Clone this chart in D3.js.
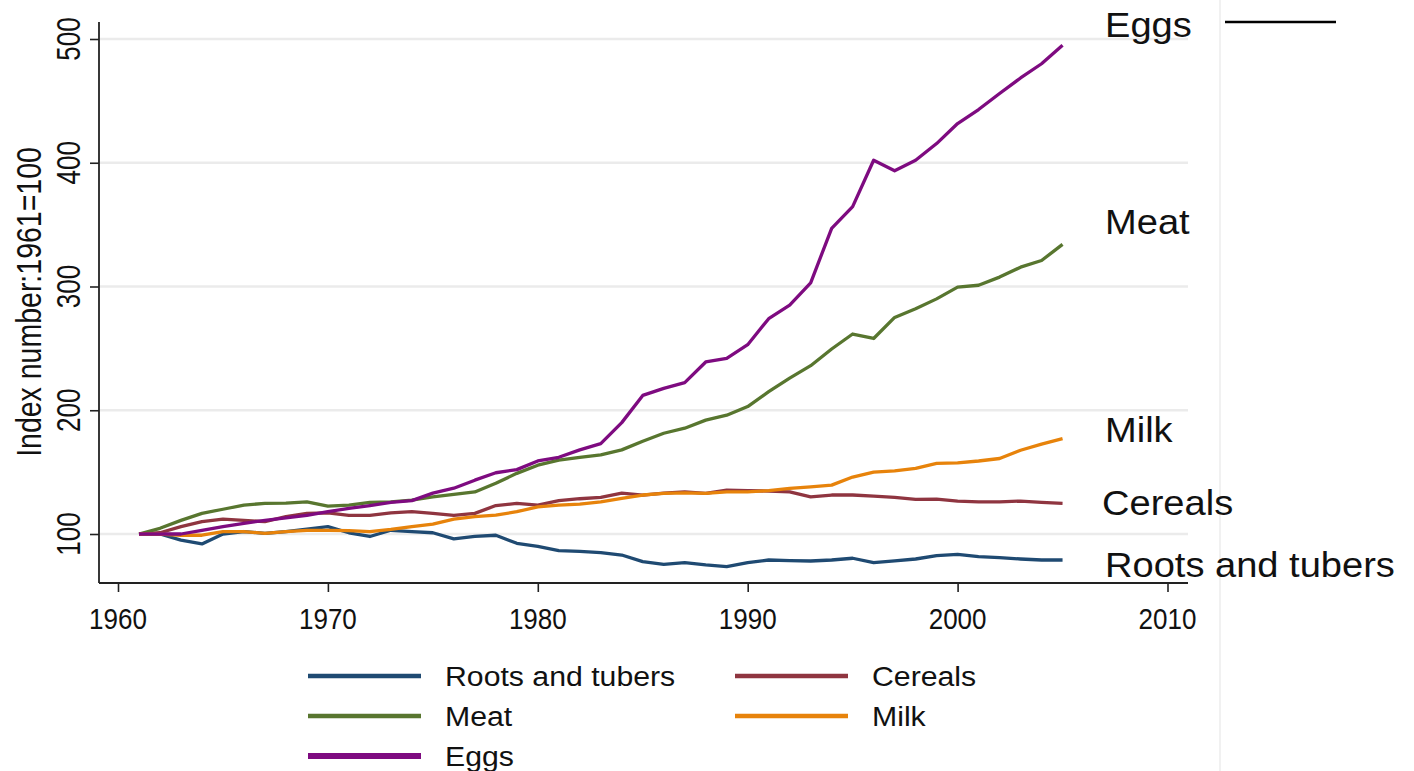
<!DOCTYPE html>
<html>
<head>
<meta charset="utf-8">
<script src="https://cdn.jsdelivr.net/npm/d3@7"></script>
<style>
  html, body { margin: 0; padding: 0; background: #ffffff; }
  svg { display: block; }
  text { font-family: "Liberation Sans", Arial, sans-serif; fill: #111; }
</style>
</head>
<body>
<svg id="chart" width="1414" height="771"></svg>
<script>
// ---------------- data ----------------
const years = d3.range(1961, 2006);

const rootsAndTubers = [100, 100, 95, 92, 100, 102, 100.5, 102, 104, 106,
  101, 98, 103, 102, 101, 96, 98, 99, 92.5, 90,
  86.5, 86, 85, 83, 77.7, 75.5, 76.9, 75, 73.7, 76.9,
  79, 78.5, 78.2, 79, 80.4, 76.9, 78.2, 79.8, 82.5, 83.6,
  81.7, 80.9, 79.8, 79, 79];

const cereals = [100, 101, 106, 110, 112, 111, 110, 114, 116.7, 117,
  115, 115, 117, 118, 116.7, 115, 116.7, 123, 124.7, 123.4,
  127, 128.5, 129.6, 133, 131.5, 133, 134, 132.8, 135.5, 135,
  134.7, 134, 130, 131.5, 131.5, 130.6, 129.6, 128, 128.2, 126.6,
  126, 126, 126.6, 125.5, 124.7];

const meat = [100, 104.6, 111, 116.7, 120, 123.4, 124.7, 125, 126, 122.6,
  123.4, 125.5, 126, 127.4, 130, 132, 134, 141, 149, 155.6,
  159.7, 162, 164, 168, 175, 181.4, 185.5, 192, 196, 203,
  215, 226, 236, 249.5, 261.6, 258, 275, 282, 290, 299.5,
  301, 307.6, 315.6, 321, 334];

const milk = [100, 100, 99, 99, 102, 102, 100.5, 102, 103, 103,
  102.7, 102, 103.8, 106, 108, 112, 114, 115.3, 118, 122,
  123.4, 124.2, 126, 128.8, 131.5, 132.8, 133.3, 132.8, 134, 134,
  135, 136.8, 138, 139.5, 146, 150, 151, 153, 157, 157.5,
  159, 161, 167.7, 172.6, 177];

const eggs = [100, 100, 100, 103, 106, 108.6, 111, 113, 115, 118,
  120.7, 123, 125.5, 127, 133, 137, 143.5, 149.5, 152, 159,
  162, 168, 173, 190, 212, 217.7, 222.3, 239, 242, 253,
  274, 285, 303, 347, 364.5, 402, 393.5, 402, 415.5, 431.7,
  443, 456, 468.5, 480, 495];

const seriesNames = ["Roots and tubers", "Cereals", "Meat", "Milk", "Eggs"];
const seriesValues = [rootsAndTubers, cereals, meat, milk, eggs];
const seriesColors = ["#1f4a72", "#8f3540", "#58762f", "#e7830b", "#7e0b80"];

const xTicks = [1960, 1970, 1980, 1990, 2000, 2010];
const yTicks = [100, 200, 300, 400, 500];
const yTitle = "Index number:1961=100";

// ---------------- layout ----------------
const svg = d3.select("#chart");
const x = d3.scaleLinear().domain([1960, 2010]).range([118, 1167.5]);
const y = d3.scaleLinear().domain([100, 500]).range([534, 39]);
const plotLeft = 99, plotRight = 1188, plotTop = 22, plotBottom = 583;

// faint frame line at right of graph region
svg.append("line").attr("x1", 1220).attr("x2", 1220).attr("y1", 0).attr("y2", 771)
  .attr("stroke", "#f1f1f1").attr("stroke-width", 2);
svg.append("line").attr("x1", 1225).attr("x2", 1336).attr("y1", 22).attr("y2", 22)
  .attr("stroke", "#000").attr("stroke-width", 2.5);

// gridlines
svg.append("g").selectAll("line").data(yTicks).join("line")
  .attr("x1", plotLeft + 1).attr("x2", plotRight)
  .attr("y1", d => y(d)).attr("y2", d => y(d))
  .attr("stroke", "#ebebeb").attr("stroke-width", 2.5);

// axes
const yAxis = d3.axisLeft(y).tickValues(yTicks).tickSize(9).tickFormat("");
const gy = svg.append("g").attr("transform", `translate(${plotLeft},0)`).call(yAxis);
gy.select(".domain").remove();
gy.selectAll(".tick line").attr("stroke", "#222").attr("stroke-width", 1.6);
svg.append("line").attr("x1", plotLeft).attr("x2", plotLeft).attr("y1", plotTop).attr("y2", plotBottom)
  .attr("stroke", "#222").attr("stroke-width", 1.8);

const xAxis = d3.axisBottom(x).tickValues(xTicks).tickSize(9).tickFormat("");
const gx = svg.append("g").attr("transform", `translate(0,${plotBottom})`).call(xAxis);
gx.select(".domain").remove();
gx.selectAll(".tick line").attr("stroke", "#222").attr("stroke-width", 1.6);
svg.append("line").attr("x1", plotLeft).attr("x2", plotRight).attr("y1", plotBottom).attr("y2", plotBottom)
  .attr("stroke", "#222").attr("stroke-width", 1.8);

// x tick labels
svg.append("g").selectAll("text").data(xTicks).join("text")
  .attr("transform", d => `translate(${x(d)},629) scale(1.0,1.1)`)
  .attr("text-anchor", "middle").attr("font-size", 26).text(d => d);

// y tick labels (rotated)
svg.append("g").selectAll("text").data(yTicks).join("text")
  .attr("transform", d => `translate(80,${y(d)}) rotate(-90) scale(1,1.25)`)
  .attr("text-anchor", "middle").attr("font-size", 26).text(d => d);

// y title
svg.append("text")
  .attr("transform", `translate(41,302) rotate(-90) scale(1,1.2)`)
  .attr("text-anchor", "middle").attr("font-size", 28.5).text(yTitle);

// lines
const line = d3.line().x((d, i) => x(years[i])).y(d => y(d));
svg.append("g").selectAll("path").data(seriesValues).join("path")
  .attr("d", d => line(d))
  .attr("fill", "none")
  .attr("stroke", (d, i) => seriesColors[i])
  .attr("stroke-width", 3.3)
  .attr("stroke-linejoin", "round");

// right-side labels
const labelY = { "Eggs": 25, "Meat": 222, "Milk": 430, "Cereals": 503, "Roots and tubers": 565 };
const labelX = { "Eggs": 1105, "Meat": 1105, "Milk": 1105, "Cereals": 1102, "Roots and tubers": 1105 };
svg.append("g").selectAll("text").data(seriesNames).join("text")
  .attr("transform", d => `translate(${labelX[d]},${labelY[d] + 12}) scale(1.12,1.02)`)
  .attr("font-size", 34).text(d => d);

// legend
const legendItems = [
  { name: "Roots and tubers", col: 0, row: 0 },
  { name: "Cereals", col: 1, row: 0 },
  { name: "Meat", col: 0, row: 1 },
  { name: "Milk", col: 1, row: 1 },
  { name: "Eggs", col: 0, row: 2 }
];
const colX = [308, 735];
const rowY = [676, 716, 756];
const lg = svg.append("g").selectAll("g").data(legendItems).join("g")
  .attr("transform", d => `translate(${colX[d.col]},${rowY[d.row]})`);
lg.append("line").attr("x1", 0).attr("x2", 113).attr("y1", 0).attr("y2", 0)
  .attr("stroke", d => seriesColors[seriesNames.indexOf(d.name)])
  .attr("stroke-width", d => d.name === "Eggs" ? 6 : 4.5);
lg.append("text").attr("transform", "translate(137,10) scale(1.12,1.05)")
  .attr("font-size", 27).text(d => d.name);
</script>
</body>
</html>
